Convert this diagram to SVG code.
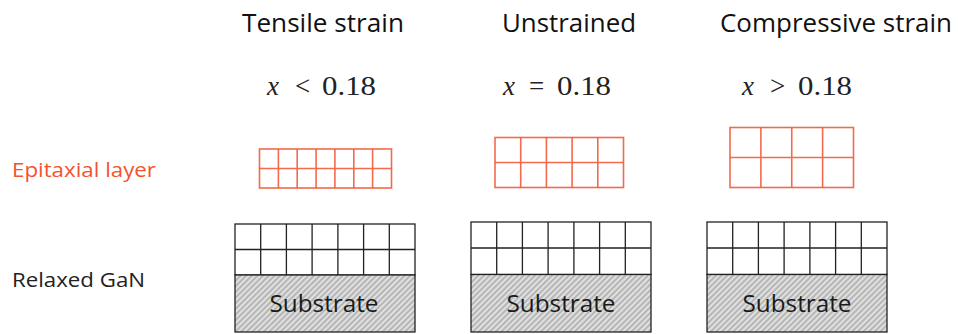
<svg xmlns="http://www.w3.org/2000/svg" width="958" height="334" viewBox="0 0 958 334">
  <style>
    .title { font-family: "Open Sans", "Noto Sans", sans-serif; font-size: 26px; fill: #111; }
    .math { font-family: "Liberation Serif", "DejaVu Serif", serif; font-size: 27px; fill: #222; }
    .math .var { font-style: italic; }
    .row { font-family: "Open Sans", "Noto Sans", sans-serif; font-size: 20px; }
    .epi-label { fill: #F4532F; }
    .gan-label { fill: #222; }
    .epi { fill: none; stroke: #F25A38; stroke-width: 1.6; stroke-opacity: 0.9; }
    .lattice { fill: #fff; stroke: #222; stroke-width: 1.3; }
    .lattice-lines { fill: none; stroke: #222; stroke-width: 1.3; }
    .substrate { fill: url(#hatch); stroke: #222; stroke-width: 1.3; }
    .sub-text { font-family: "Open Sans", "Noto Sans", sans-serif; font-size: 24px; fill: #1a1a1a; text-anchor: middle; }
  </style>
  <defs>
    <pattern id="hatch" width="4" height="4" patternUnits="userSpaceOnUse" patternTransform="rotate(45)">
      <rect width="4" height="4" fill="#e0e0e0"/>
      <line x1="1" y1="0" x2="1" y2="4" stroke="#a0a0a0" stroke-width="1.3"/>
    </pattern>
  </defs>

  <rect width="958" height="334" fill="#fff"/>

  <!-- row labels -->
  <g id="label-epitaxial">
    <text class="row epi-label" x="12" y="177" textLength="144" lengthAdjust="spacingAndGlyphs">Epitaxial layer</text>
  </g>
  <g id="label-relaxed-gan">
    <text class="row gan-label" x="12" y="287" textLength="133" lengthAdjust="spacingAndGlyphs">Relaxed GaN</text>
  </g>

  <!-- tensile strain column -->
  <g id="col-tensile">
    <text class="title" x="242" y="32" textLength="162" lengthAdjust="spacingAndGlyphs">Tensile strain</text>
    <text class="math" y="95"><tspan class="var" x="267">x</tspan><tspan x="295">&lt;</tspan><tspan x="322" textLength="54" lengthAdjust="spacingAndGlyphs">0.18</tspan></text>
    <g id="epi-tensile">
      <rect class="epi" x="259.5" y="149" width="132" height="39"/>
      <path class="epi" d="M259.5 168.5H391.5M278.4 149V188M297.2 149V188M316.1 149V188M334.9 149V188M353.8 149V188M372.6 149V188"/>
    </g>
    <g id="stack-tensile">
      <rect class="lattice" x="235" y="224" width="180" height="51"/>
      <path class="lattice-lines" d="M235 249.5H415M260.7 224V275M286.4 224V275M312.1 224V275M337.9 224V275M363.6 224V275M389.3 224V275"/>
      <rect class="substrate" x="235" y="275" width="180" height="57"/>
      <text class="sub-text" x="324" y="312" textLength="109" lengthAdjust="spacingAndGlyphs">Substrate</text>
    </g>
  </g>

  <!-- unstrained column -->
  <g id="col-unstrained">
    <text class="title" x="502" y="32" textLength="134" lengthAdjust="spacingAndGlyphs">Unstrained</text>
    <text class="math" y="95"><tspan class="var" x="503">x</tspan><tspan x="529">=</tspan><tspan x="557" textLength="54" lengthAdjust="spacingAndGlyphs">0.18</tspan></text>
    <g id="epi-unstrained">
      <rect class="epi" x="495" y="137.5" width="128.5" height="50"/>
      <path class="epi" d="M495 162.5H623.5M520.7 137.5V187.5M546.4 137.5V187.5M572.1 137.5V187.5M597.8 137.5V187.5"/>
    </g>
    <g id="stack-unstrained">
      <rect class="lattice" x="471" y="222" width="180" height="52.5"/>
      <path class="lattice-lines" d="M471 248H651M496.7 222V274.5M522.4 222V274.5M548.1 222V274.5M573.9 222V274.5M599.6 222V274.5M625.3 222V274.5"/>
      <rect class="substrate" x="471" y="274.5" width="180" height="57.5"/>
      <text class="sub-text" x="561" y="312" textLength="109" lengthAdjust="spacingAndGlyphs">Substrate</text>
    </g>
  </g>

  <!-- compressive strain column -->
  <g id="col-compressive">
    <text class="title" x="720" y="32" textLength="232" lengthAdjust="spacingAndGlyphs">Compressive strain</text>
    <text class="math" y="95"><tspan class="var" x="742">x</tspan><tspan x="770">&gt;</tspan><tspan x="798" textLength="54" lengthAdjust="spacingAndGlyphs">0.18</tspan></text>
    <g id="epi-compressive">
      <rect class="epi" x="730" y="127.5" width="123.5" height="60"/>
      <path class="epi" d="M730 157.5H853.5M760.9 127.5V187.5M791.75 127.5V187.5M822.6 127.5V187.5"/>
    </g>
    <g id="stack-compressive">
      <rect class="lattice" x="707" y="222" width="180" height="52.5"/>
      <path class="lattice-lines" d="M707 248H887M732.7 222V274.5M758.4 222V274.5M784.1 222V274.5M809.9 222V274.5M835.6 222V274.5M861.3 222V274.5"/>
      <rect class="substrate" x="707" y="274.5" width="180" height="57.5"/>
      <text class="sub-text" x="797" y="312" textLength="109" lengthAdjust="spacingAndGlyphs">Substrate</text>
    </g>
  </g>
</svg>
